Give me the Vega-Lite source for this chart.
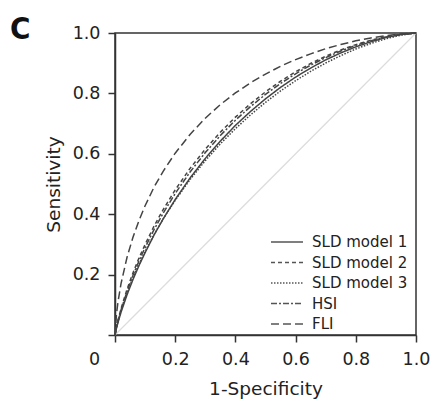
{
  "$schema": "https://vega.github.io/schema/vega-lite/v6.json",
  "autosize": "none",
  "width": 301,
  "height": 302,
  "padding": {"left": 115, "top": 33, "right": 19, "bottom": 72},
  "background": "white",
  "title": {"text": "C", "anchor": "start", "frame": "group", "orient": "top", "offset": 0, "dx": -105, "dy": 46, "baseline": "alphabetic", "font": "DejaVu Sans Condensed", "fontSize": 31, "fontWeight": "bold", "color": "#111"},
  "config": {
    "view": {"stroke": "#333", "strokeWidth": 1.5},
    "font": "DejaVu Sans",
    "axis": {"domainColor": "#333", "domainWidth": 1.5, "tickColor": "#333", "tickWidth": 1.5, "tickSize": 7, "grid": false, "labelFont": "DejaVu Sans", "labelFontSize": 17.5, "labelColor": "#222", "titleFont": "DejaVu Sans", "titleFontSize": 18.5, "titleFontWeight": "normal", "titleColor": "#222"}
  },
  "datasets": {
    "diag": [{"fpr": 0, "tpr": 0}, {"fpr": 1, "tpr": 1}],
    "roc": [
      {"model": "SLD model 1", "fpr": 0, "tpr": 0},
      {"model": "SLD model 1", "fpr": 0.005, "tpr": 0.0226},
      {"model": "SLD model 1", "fpr": 0.01, "tpr": 0.0416},
      {"model": "SLD model 1", "fpr": 0.02, "tpr": 0.0752},
      {"model": "SLD model 1", "fpr": 0.04, "tpr": 0.1333},
      {"model": "SLD model 1", "fpr": 0.06, "tpr": 0.1843},
      {"model": "SLD model 1", "fpr": 0.08, "tpr": 0.2305},
      {"model": "SLD model 1", "fpr": 0.1, "tpr": 0.2726},
      {"model": "SLD model 1", "fpr": 0.13, "tpr": 0.3314},
      {"model": "SLD model 1", "fpr": 0.16, "tpr": 0.3844},
      {"model": "SLD model 1", "fpr": 0.2, "tpr": 0.4487},
      {"model": "SLD model 1", "fpr": 0.25, "tpr": 0.5207},
      {"model": "SLD model 1", "fpr": 0.3, "tpr": 0.5847},
      {"model": "SLD model 1", "fpr": 0.35, "tpr": 0.642},
      {"model": "SLD model 1", "fpr": 0.4, "tpr": 0.694},
      {"model": "SLD model 1", "fpr": 0.45, "tpr": 0.74},
      {"model": "SLD model 1", "fpr": 0.5, "tpr": 0.782},
      {"model": "SLD model 1", "fpr": 0.55, "tpr": 0.82},
      {"model": "SLD model 1", "fpr": 0.6, "tpr": 0.854},
      {"model": "SLD model 1", "fpr": 0.65, "tpr": 0.884},
      {"model": "SLD model 1", "fpr": 0.7, "tpr": 0.911},
      {"model": "SLD model 1", "fpr": 0.75, "tpr": 0.934},
      {"model": "SLD model 1", "fpr": 0.8, "tpr": 0.954},
      {"model": "SLD model 1", "fpr": 0.85, "tpr": 0.971},
      {"model": "SLD model 1", "fpr": 0.9, "tpr": 0.985},
      {"model": "SLD model 1", "fpr": 0.95, "tpr": 0.9947},
      {"model": "SLD model 1", "fpr": 1, "tpr": 1},

      {"model": "SLD model 2", "fpr": 0, "tpr": 0},
      {"model": "SLD model 2", "fpr": 0.005, "tpr": 0.0273},
      {"model": "SLD model 2", "fpr": 0.01, "tpr": 0.0493},
      {"model": "SLD model 2", "fpr": 0.02, "tpr": 0.0872},
      {"model": "SLD model 2", "fpr": 0.04, "tpr": 0.1513},
      {"model": "SLD model 2", "fpr": 0.06, "tpr": 0.2064},
      {"model": "SLD model 2", "fpr": 0.08, "tpr": 0.2556},
      {"model": "SLD model 2", "fpr": 0.1, "tpr": 0.2998},
      {"model": "SLD model 2", "fpr": 0.13, "tpr": 0.361},
      {"model": "SLD model 2", "fpr": 0.16, "tpr": 0.4153},
      {"model": "SLD model 2", "fpr": 0.2, "tpr": 0.4805},
      {"model": "SLD model 2", "fpr": 0.25, "tpr": 0.5525},
      {"model": "SLD model 2", "fpr": 0.3, "tpr": 0.6156},
      {"model": "SLD model 2", "fpr": 0.35, "tpr": 0.6715},
      {"model": "SLD model 2", "fpr": 0.4, "tpr": 0.7214},
      {"model": "SLD model 2", "fpr": 0.45, "tpr": 0.7655},
      {"model": "SLD model 2", "fpr": 0.5, "tpr": 0.8051},
      {"model": "SLD model 2", "fpr": 0.55, "tpr": 0.8404},
      {"model": "SLD model 2", "fpr": 0.6, "tpr": 0.8714},
      {"model": "SLD model 2", "fpr": 0.65, "tpr": 0.899},
      {"model": "SLD model 2", "fpr": 0.7, "tpr": 0.923},
      {"model": "SLD model 2", "fpr": 0.75, "tpr": 0.9439},
      {"model": "SLD model 2", "fpr": 0.8, "tpr": 0.9616},
      {"model": "SLD model 2", "fpr": 0.85, "tpr": 0.976},
      {"model": "SLD model 2", "fpr": 0.9, "tpr": 0.9876},
      {"model": "SLD model 2", "fpr": 0.95, "tpr": 0.9958},
      {"model": "SLD model 2", "fpr": 1, "tpr": 1},

      {"model": "SLD model 3", "fpr": 0, "tpr": 0},
      {"model": "SLD model 3", "fpr": 0.005, "tpr": 0.0263},
      {"model": "SLD model 3", "fpr": 0.01, "tpr": 0.0466},
      {"model": "SLD model 3", "fpr": 0.02, "tpr": 0.0814},
      {"model": "SLD model 3", "fpr": 0.04, "tpr": 0.1399},
      {"model": "SLD model 3", "fpr": 0.06, "tpr": 0.1902},
      {"model": "SLD model 3", "fpr": 0.08, "tpr": 0.2355},
      {"model": "SLD model 3", "fpr": 0.1, "tpr": 0.2766},
      {"model": "SLD model 3", "fpr": 0.13, "tpr": 0.3332},
      {"model": "SLD model 3", "fpr": 0.16, "tpr": 0.3844},
      {"model": "SLD model 3", "fpr": 0.2, "tpr": 0.4459},
      {"model": "SLD model 3", "fpr": 0.25, "tpr": 0.5156},
      {"model": "SLD model 3", "fpr": 0.3, "tpr": 0.5773},
      {"model": "SLD model 3", "fpr": 0.35, "tpr": 0.6331},
      {"model": "SLD model 3", "fpr": 0.4, "tpr": 0.6833},
      {"model": "SLD model 3", "fpr": 0.45, "tpr": 0.7287},
      {"model": "SLD model 3", "fpr": 0.5, "tpr": 0.7704},
      {"model": "SLD model 3", "fpr": 0.55, "tpr": 0.8081},
      {"model": "SLD model 3", "fpr": 0.6, "tpr": 0.842},
      {"model": "SLD model 3", "fpr": 0.65, "tpr": 0.8729},
      {"model": "SLD model 3", "fpr": 0.7, "tpr": 0.9006},
      {"model": "SLD model 3", "fpr": 0.75, "tpr": 0.9252},
      {"model": "SLD model 3", "fpr": 0.8, "tpr": 0.947},
      {"model": "SLD model 3", "fpr": 0.85, "tpr": 0.9654},
      {"model": "SLD model 3", "fpr": 0.9, "tpr": 0.9809},
      {"model": "SLD model 3", "fpr": 0.95, "tpr": 0.9929},
      {"model": "SLD model 3", "fpr": 1, "tpr": 1},

      {"model": "HSI", "fpr": 0, "tpr": 0},
      {"model": "HSI", "fpr": 0.005, "tpr": 0.0255},
      {"model": "HSI", "fpr": 0.01, "tpr": 0.0463},
      {"model": "HSI", "fpr": 0.02, "tpr": 0.0826},
      {"model": "HSI", "fpr": 0.04, "tpr": 0.1444},
      {"model": "HSI", "fpr": 0.06, "tpr": 0.198},
      {"model": "HSI", "fpr": 0.08, "tpr": 0.246},
      {"model": "HSI", "fpr": 0.1, "tpr": 0.2894},
      {"model": "HSI", "fpr": 0.13, "tpr": 0.3497},
      {"model": "HSI", "fpr": 0.16, "tpr": 0.4036},
      {"model": "HSI", "fpr": 0.2, "tpr": 0.4685},
      {"model": "HSI", "fpr": 0.25, "tpr": 0.5406},
      {"model": "HSI", "fpr": 0.3, "tpr": 0.6041},
      {"model": "HSI", "fpr": 0.35, "tpr": 0.6606},
      {"model": "HSI", "fpr": 0.4, "tpr": 0.7112},
      {"model": "HSI", "fpr": 0.45, "tpr": 0.7562},
      {"model": "HSI", "fpr": 0.5, "tpr": 0.7967},
      {"model": "HSI", "fpr": 0.55, "tpr": 0.833},
      {"model": "HSI", "fpr": 0.6, "tpr": 0.865},
      {"model": "HSI", "fpr": 0.65, "tpr": 0.8936},
      {"model": "HSI", "fpr": 0.7, "tpr": 0.9186},
      {"model": "HSI", "fpr": 0.75, "tpr": 0.9404},
      {"model": "HSI", "fpr": 0.8, "tpr": 0.959},
      {"model": "HSI", "fpr": 0.85, "tpr": 0.9744},
      {"model": "HSI", "fpr": 0.9, "tpr": 0.9866},
      {"model": "HSI", "fpr": 0.95, "tpr": 0.9954},
      {"model": "HSI", "fpr": 1, "tpr": 1},

      {"model": "FLI", "fpr": 0, "tpr": 0},
      {"model": "FLI", "fpr": 0.005, "tpr": 0.07},
      {"model": "FLI", "fpr": 0.01, "tpr": 0.11},
      {"model": "FLI", "fpr": 0.02, "tpr": 0.17},
      {"model": "FLI", "fpr": 0.04, "tpr": 0.2575},
      {"model": "FLI", "fpr": 0.06, "tpr": 0.3246},
      {"model": "FLI", "fpr": 0.08, "tpr": 0.38},
      {"model": "FLI", "fpr": 0.1, "tpr": 0.428},
      {"model": "FLI", "fpr": 0.13, "tpr": 0.49},
      {"model": "FLI", "fpr": 0.16, "tpr": 0.542},
      {"model": "FLI", "fpr": 0.2, "tpr": 0.602},
      {"model": "FLI", "fpr": 0.25, "tpr": 0.665},
      {"model": "FLI", "fpr": 0.3, "tpr": 0.718},
      {"model": "FLI", "fpr": 0.35, "tpr": 0.763},
      {"model": "FLI", "fpr": 0.4, "tpr": 0.8015},
      {"model": "FLI", "fpr": 0.45, "tpr": 0.835},
      {"model": "FLI", "fpr": 0.5, "tpr": 0.864},
      {"model": "FLI", "fpr": 0.55, "tpr": 0.89},
      {"model": "FLI", "fpr": 0.6, "tpr": 0.912},
      {"model": "FLI", "fpr": 0.65, "tpr": 0.931},
      {"model": "FLI", "fpr": 0.7, "tpr": 0.948},
      {"model": "FLI", "fpr": 0.75, "tpr": 0.962},
      {"model": "FLI", "fpr": 0.8, "tpr": 0.974},
      {"model": "FLI", "fpr": 0.85, "tpr": 0.9837},
      {"model": "FLI", "fpr": 0.9, "tpr": 0.9914},
      {"model": "FLI", "fpr": 0.95, "tpr": 0.997},
      {"model": "FLI", "fpr": 1, "tpr": 1}
    ]
  },
  "encoding": {
    "x": {"field": "fpr", "type": "quantitative", "scale": {"domain": [0, 1], "nice": false, "zero": false}, "axis": {"title": "1-Specificity", "values": [0, 0.2, 0.4, 0.6, 0.8, 1.0], "labelExpr": "datum.value == 0 ? '0' : format(datum.value, '.1f')", "labelOffset": {"condition": {"test": "datum.value == 0", "value": -21}, "value": 0}, "labelPadding": 8, "titlePadding": 12, "labelFlush": false}},
    "y": {"field": "tpr", "type": "quantitative", "scale": {"domain": [0, 1], "nice": false, "zero": false}, "axis": {"title": "Sensitivity", "values": [0, 0.2, 0.4, 0.6, 0.8, 1.0], "labelExpr": "datum.value == 0 ? '' : format(datum.value, '.1f')", "labelPadding": 8, "titlePadding": 9, "labelFlush": false}}
  },
  "layer": [
    {
      "data": {"name": "diag"},
      "mark": {"type": "line", "color": "#dcdcdc", "strokeWidth": 1.2},
      "encoding": {}
    },
    {
      "data": {"name": "roc"},
      "mark": {"type": "line", "color": "#444", "strokeWidth": 1.5},
      "encoding": {
        "strokeDash": {
          "field": "model", "type": "nominal",
          "scale": {"domain": ["SLD model 1", "SLD model 2", "SLD model 3", "HSI", "FLI"], "range": [[1, 0], [4, 3], [1.5, 1.5], [6, 2, 2, 2], [8, 4]]},
          "legend": {"title": null, "orient": "none", "legendX": 161, "legendY": 198, "symbolType": "M-1.6,0L1.6,0", "symbolSize": 400, "symbolStrokeColor": "#555", "symbolStrokeWidth": 1.6, "labelFontSize": 15, "labelColor": "#222", "labelFont": "DejaVu Sans", "rowPadding": 1.5, "labelOffset": 14, "labelLimit": 200}
        }
      }
    }
  ]
}
